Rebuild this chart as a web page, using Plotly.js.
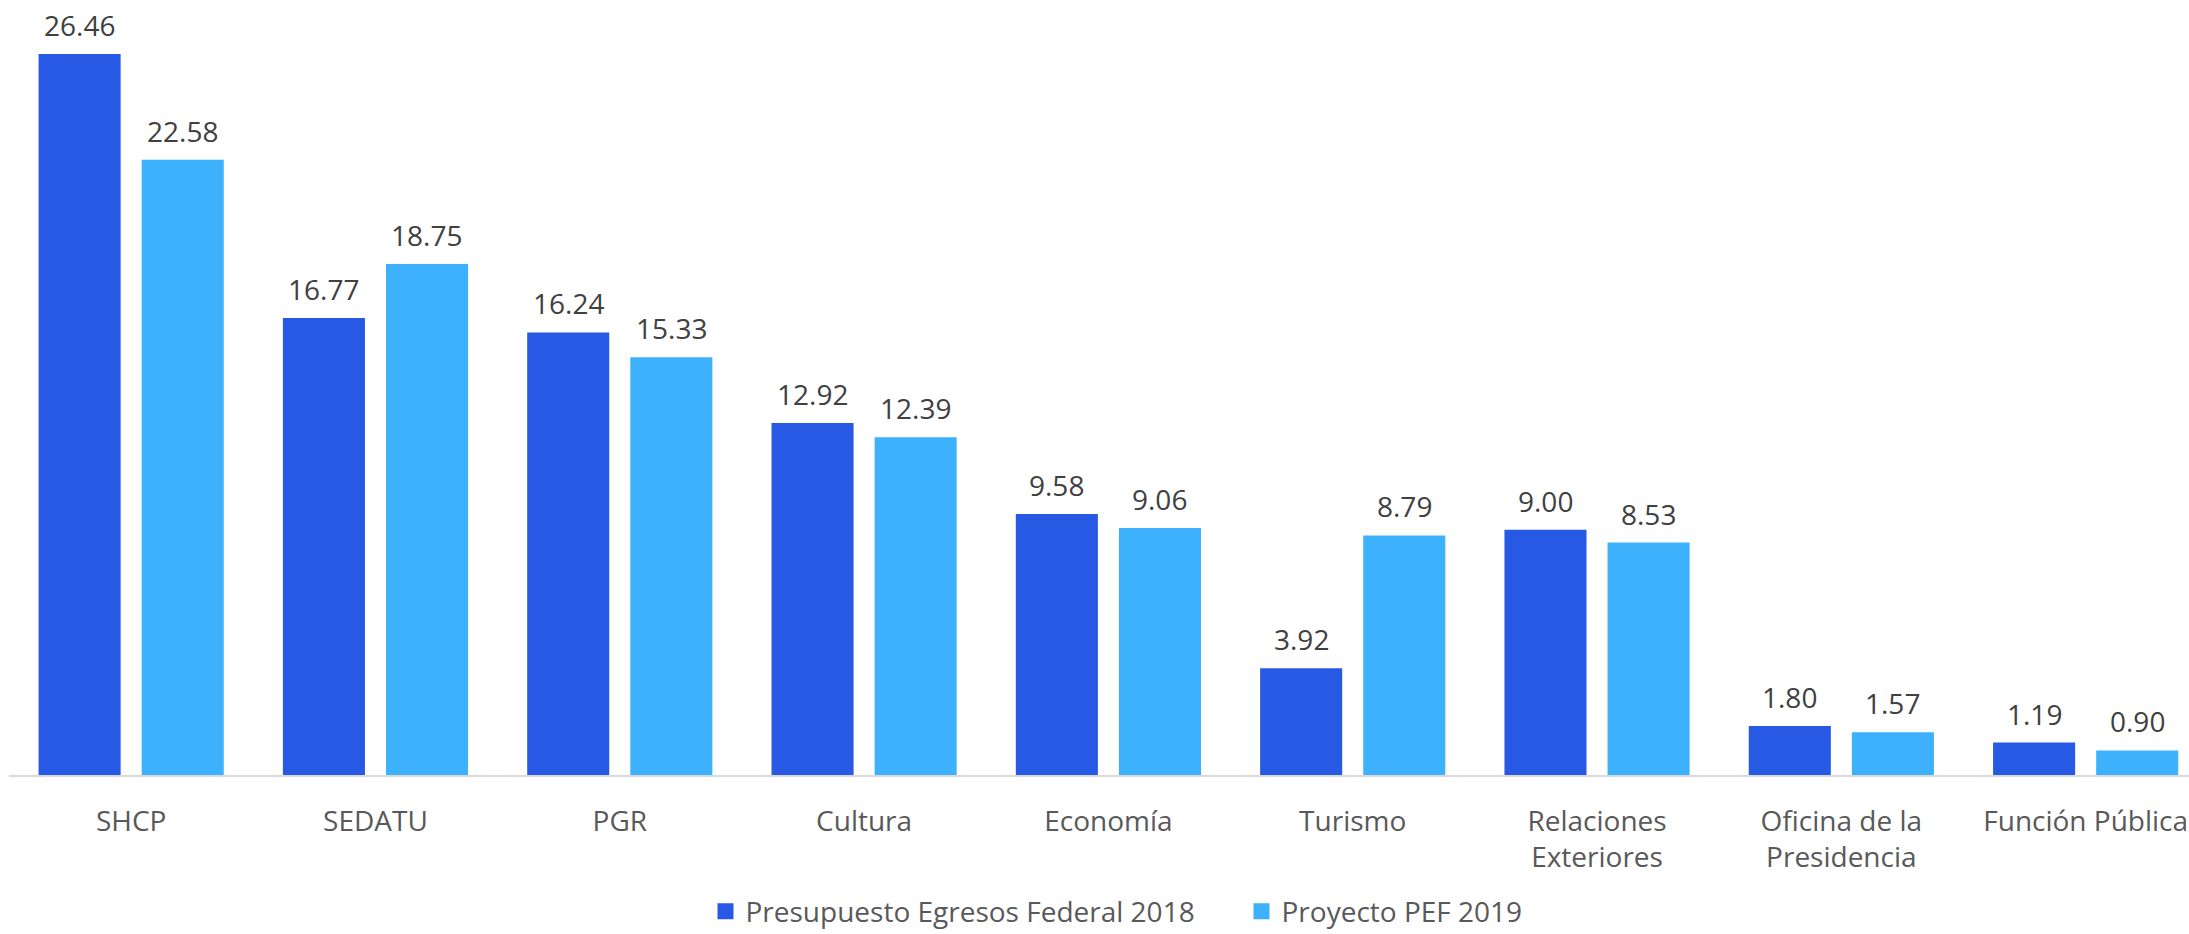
<!DOCTYPE html>
<html>
<head>
<meta charset="utf-8">
<script src="https://cdn.plot.ly/plotly-3.0.1.min.js"></script>
<style>html,body{margin:0;padding:0;background:#fff;}#chart{width:2189px;height:934px;}</style>
</head>
<body>
<div id="chart"></div>
<script>
var categories = ["SHCP", "SEDATU", "PGR", "Cultura", "Economía", "Turismo", "Relaciones<br>Exteriores", "Oficina de la<br>Presidencia", "Función Pública"];
var series2018Name = "Presupuesto Egresos Federal 2018";
var series2019Name = "Proyecto PEF 2019";
var values2018 = [26.46, 16.77, 16.24, 12.92, 9.58, 3.92, 9.00, 1.80, 1.19];
var values2019 = [22.58, 18.75, 15.33, 12.39, 9.06, 8.79, 8.53, 1.57, 0.90];
var colors = ["#2759E4", "#3DB1FC"];

var FONT = "'Open Sans', 'DejaVu Sans', sans-serif";
var traces = [
  {type: "bar", name: series2018Name, x: categories, y: values2018, marker: {color: colors[0]}, showlegend: false, hoverinfo: "y"},
  {type: "bar", name: series2019Name, x: categories, y: values2019, marker: {color: colors[1]}, showlegend: false, hoverinfo: "y"},
  {type: "scatter", mode: "markers", name: series2018Name, x: [null], y: [null], marker: {symbol: "square", size: 17, color: colors[0]}},
  {type: "scatter", mode: "markers", name: series2019Name, x: [null], y: [null], marker: {symbol: "square", size: 17, color: colors[1]}}
];

var annotations = [];
function addLabels(vals, shift) {
  vals.forEach(function (v, i) {
    annotations.push({
      x: categories[i], y: v, xref: "x", yref: "y",
      text: v.toFixed(2), showarrow: false,
      xshift: shift, yshift: 29, yanchor: "middle", xanchor: "center",
      font: {family: FONT, size: 28, color: "#404040"}
    });
  });
}
addLabels(values2018, -51.5);
addLabels(values2019, 51.5);

var layout = {
  width: 2189, height: 934,
  margin: {l: 9, r: 0, t: 0, b: 159},
  paper_bgcolor: "#fff", plot_bgcolor: "#fff",
  barmode: "group", bargap: 0.156, bargroupgap: 0.204,
  font: {family: FONT, size: 28, color: "#595959"},
  xaxis: {
    range: [-0.5, 8.423], showgrid: false, zeroline: false, automargin: false,
    showline: true, linecolor: "#D9D9D9", linewidth: 2,
    ticks: "", ticklabelstandoff: 20,
    tickfont: {family: FONT, size: 28, color: "#595959"}
  },
  yaxis: {range: [0, 28.44], visible: false, showgrid: false, zeroline: false, automargin: false},
  showlegend: true,
  legend: {
    orientation: "h", x: 0.3195, xanchor: "left", xref: "paper",
    y: 0.024, yanchor: "middle", yref: "container",
    itemsizing: "trace", entrywidth: 491, entrywidthmode: "pixels",
    font: {family: FONT, size: 28, color: "#595959"}, bgcolor: "rgba(0,0,0,0)"
  },
  annotations: annotations
};

Plotly.newPlot("chart", traces, layout, {staticPlot: true, displayModeBar: false});
</script>
</body>
</html>
